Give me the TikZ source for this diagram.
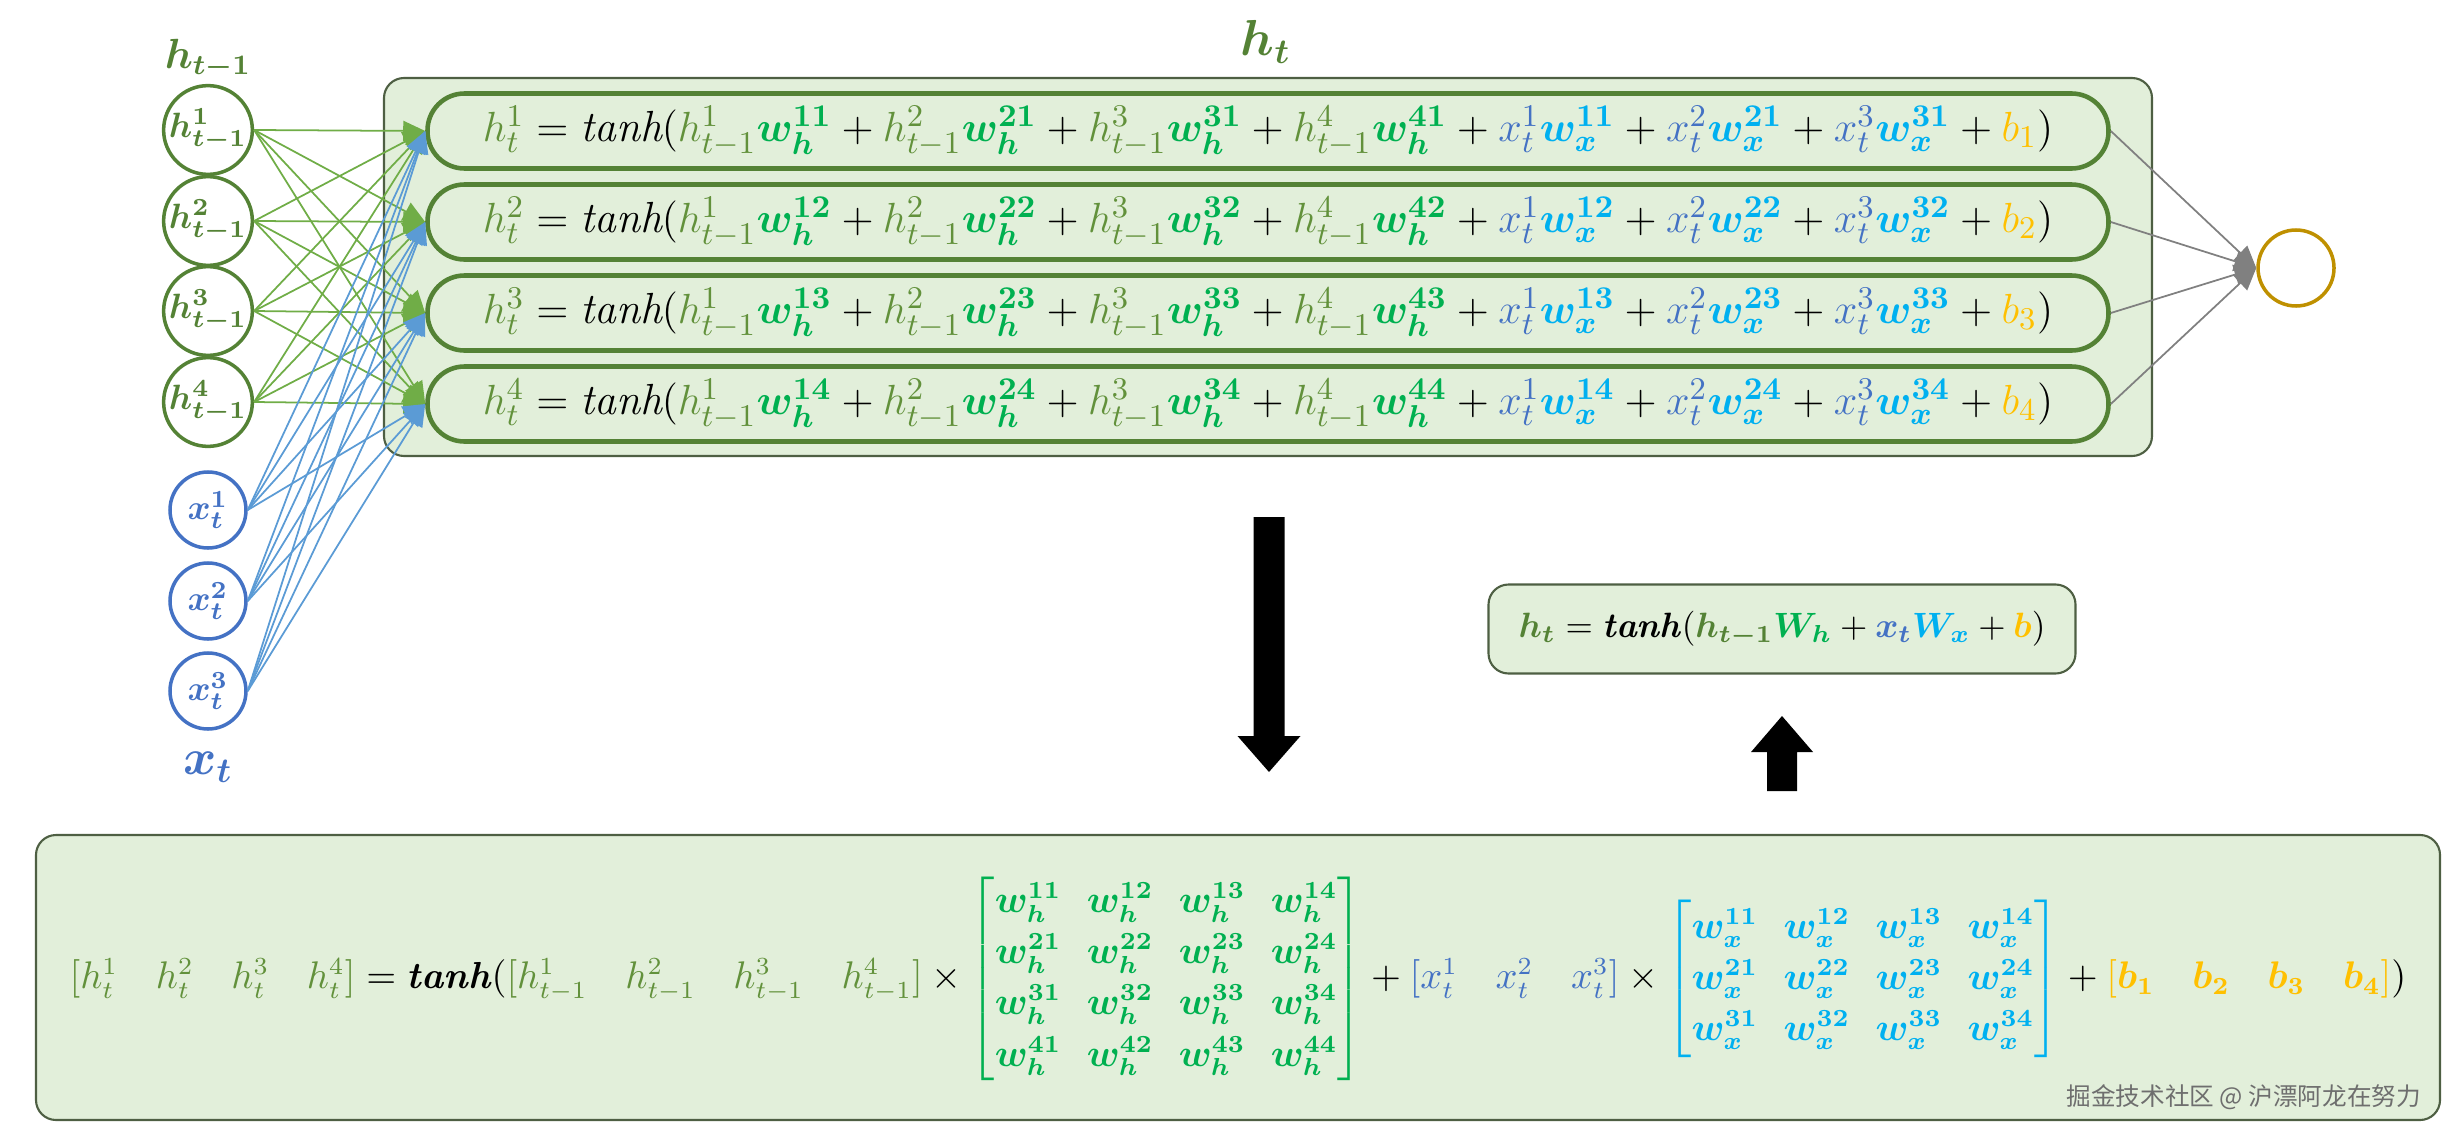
\documentclass[tikz,border=0pt]{standalone}
\usepackage{amsmath,amssymb}
\usepackage{fontspec}
\usepackage{bm}
\usepackage{tikz}
\usetikzlibrary{arrows.meta}

\newfontfamily\cjk{Noto Sans CJK SC}

\definecolor{hdark}{HTML}{548235}
\definecolor{hlight}{HTML}{62913B}
\definecolor{wgreen}{HTML}{00B050}
\definecolor{xblue}{HTML}{4472C4}
\definecolor{wcyan}{HTML}{00B0F0}
\definecolor{bgold}{HTML}{FFC000}
\definecolor{boxfill}{HTML}{E2EFDA}
\definecolor{panelline}{HTML}{4E5F43}
\definecolor{hline}{HTML}{70AD47}
\definecolor{xline}{HTML}{5B9BD5}
\definecolor{outring}{HTML}{BF9000}
\definecolor{markgray}{HTML}{6E6E6E}

% formula pieces
\newcommand{\hprev}[1]{\textcolor{hlight}{h^{#1}_{t-1}}}
\newcommand{\hcur}[1]{\textcolor{hlight}{h^{#1}_{t}}}
\newcommand{\xin}[1]{\textcolor{xblue}{x^{#1}_{t}}}
\newcommand{\whb}[1]{\textcolor{wgreen}{\bm{w^{#1}_{h}}}}
\newcommand{\wxb}[1]{\textcolor{wcyan}{\bm{w^{#1}_{x}}}}
\newcommand{\bias}[1]{\textcolor{bgold}{b_{#1}}}
\newcommand{\boldtanh}{\textbf{\textit{tanh}}}
\newcommand{\rowformula}[1]{$\hcur{#1} = \mathit{tanh}(\hprev{1}\whb{1#1} + \hprev{2}\whb{2#1} + \hprev{3}\whb{3#1} + \hprev{4}\whb{4#1} + \xin{1}\wxb{1#1} + \xin{2}\wxb{2#1} + \xin{3}\wxb{3#1} + \bias{#1})$}

\begin{document}
\begin{tikzpicture}[
    font=\fontsize{12.4}{14}\selectfont,
    hunit/.style={circle, draw=hdark, line width=1pt, minimum size=0.76cm, inner sep=0pt, text=hdark, font=\fontsize{10}{11}\selectfont},
    xunit/.style={circle, draw=xblue, line width=1pt, minimum size=0.76cm, inner sep=0pt, text=xblue, font=\fontsize{10}{11}\selectfont},
    outunit/.style={circle, draw=outring, line width=1pt, minimum size=0.76cm, inner sep=0pt},
    rowbox/.style={draw=hdark, line width=1.3pt, fill=boxfill, rounded corners=0.37cm, minimum width=16.81cm, minimum height=0.75cm, inner sep=0pt},
    panel/.style={draw=panelline, line width=0.6pt, fill=boxfill, rounded corners=0.2cm, inner sep=0pt},
    hedge/.style={draw=hline, line width=0.5pt, -{Triangle[length=2.2mm, width=2mm]}},
    xedge/.style={draw=xline, line width=0.5pt, -{Triangle[length=2.2mm, width=2mm]}},
    oedge/.style={draw=gray, line width=0.5pt, -{Triangle[length=2.2mm, width=2mm]}},
    labelnode/.style={inner sep=1pt}
]
\useasboundingbox (0,0) rectangle (24.57,11.42);

% panels
\node[panel, minimum width=17.68cm, minimum height=3.78cm] (htpanel) at (12.68,8.75) {};
\node[panel, minimum width=5.87cm, minimum height=0.89cm] (vecpanel) at (17.82,5.13) {};
\node[panel, minimum width=24.04cm, minimum height=2.85cm] (matpanel) at (12.38,1.645) {};

% labels
\node[labelnode, text=hdark, font=\fontsize{12}{14}\selectfont] (hprevlabel) at (2.08,10.83) {$\bm{h_{t-1}}$};
\node[labelnode, text=hdark, font=\fontsize{14.4}{17}\selectfont] (hlabel) at (12.66,11.0) {$\bm{h_{t}}$};
\node[labelnode, text=xblue, font=\fontsize{14.4}{17}\selectfont] (xlabel) at (2.08,3.75) {$\bm{x_{t}}$};

% input units
\node[hunit] (h1) at (2.08,10.12) {$\bm{h^1_{t-1}}$};
\node[hunit] (h2) at (2.08,9.21) {$\bm{h^2_{t-1}}$};
\node[hunit] (h3) at (2.08,8.31) {$\bm{h^3_{t-1}}$};
\node[hunit] (h4) at (2.08,7.40) {$\bm{h^4_{t-1}}$};
\node[xunit] (x1) at (2.08,6.32) {$\bm{x^1_{t}}$};
\node[xunit] (x2) at (2.08,5.41) {$\bm{x^2_{t}}$};
\node[xunit] (x3) at (2.08,4.51) {$\bm{x^3_{t}}$};

% hidden rows
\node[rowbox] (r1) at (12.68,10.11) {\rowformula{1}};
\node[rowbox] (r2) at (12.68,9.20) {\rowformula{2}};
\node[rowbox] (r3) at (12.68,8.29) {\rowformula{3}};
\node[rowbox] (r4) at (12.68,7.38) {\rowformula{4}};

% output unit
\node[outunit] (out) at (22.96,8.74) {};

% h_{t-1} to rows
\draw[hedge] (h1.east)--(r1.west);
\draw[hedge] (h1.east)--(r2.west);
\draw[hedge] (h1.east)--(r3.west);
\draw[hedge] (h1.east)--(r4.west);
\draw[hedge] (h2.east)--(r1.west);
\draw[hedge] (h2.east)--(r2.west);
\draw[hedge] (h2.east)--(r3.west);
\draw[hedge] (h2.east)--(r4.west);
\draw[hedge] (h3.east)--(r1.west);
\draw[hedge] (h3.east)--(r2.west);
\draw[hedge] (h3.east)--(r3.west);
\draw[hedge] (h3.east)--(r4.west);
\draw[hedge] (h4.east)--(r1.west);
\draw[hedge] (h4.east)--(r2.west);
\draw[hedge] (h4.east)--(r3.west);
\draw[hedge] (h4.east)--(r4.west);

% x_t to rows
\draw[xedge] (x1.east)--(r1.west);
\draw[xedge] (x1.east)--(r2.west);
\draw[xedge] (x1.east)--(r3.west);
\draw[xedge] (x1.east)--(r4.west);
\draw[xedge] (x2.east)--(r1.west);
\draw[xedge] (x2.east)--(r2.west);
\draw[xedge] (x2.east)--(r3.west);
\draw[xedge] (x2.east)--(r4.west);
\draw[xedge] (x3.east)--(r1.west);
\draw[xedge] (x3.east)--(r2.west);
\draw[xedge] (x3.east)--(r3.west);
\draw[xedge] (x3.east)--(r4.west);

% rows to output
\draw[oedge] (r1.east)--(out.west);
\draw[oedge] (r2.east)--(out.west);
\draw[oedge] (r3.east)--(out.west);
\draw[oedge] (r4.east)--(out.west);

% block arrows
\fill (12.535,6.25) -- (12.845,6.25) -- (12.845,4.06) -- (13.005,4.06) -- (12.69,3.70) -- (12.375,4.06) -- (12.535,4.06) -- cycle;
\fill (17.67,3.51) -- (17.97,3.51) -- (17.97,3.90) -- (18.13,3.90) -- (17.82,4.26) -- (17.51,3.90) -- (17.67,3.90) -- cycle;

% vector form
\node[labelnode, font=\fontsize{10}{12}\selectfont] (vecform) at (vecpanel.center) {$\textcolor{hdark}{\bm{h_t}} = \boldtanh(\textcolor{hdark}{\bm{h_{t-1}}}\textcolor{wgreen}{\bm{W_h}} + \textcolor{xblue}{\bm{x_t}}\textcolor{wcyan}{\bm{W_x}} + \textcolor{bgold}{\bm{b}})$};

% matrix form
\node[labelnode, font=\fontsize{10.7}{13}\selectfont] (matform) at (12.38,1.63) {\renewcommand{\arraystretch}{1.12}\setlength{\arraycolsep}{3.6pt}$\textcolor{hlight}{[h^1_t \quad h^2_t \quad h^3_t \quad h^4_t]} = \boldtanh(\textcolor{hlight}{[h^1_{t-1} \quad h^2_{t-1} \quad h^3_{t-1} \quad h^4_{t-1}]} \times \textcolor{wgreen}{\begin{bmatrix} \bm{w^{11}_h} & \bm{w^{12}_h} & \bm{w^{13}_h} & \bm{w^{14}_h} \\ \bm{w^{21}_h} & \bm{w^{22}_h} & \bm{w^{23}_h} & \bm{w^{24}_h} \\ \bm{w^{31}_h} & \bm{w^{32}_h} & \bm{w^{33}_h} & \bm{w^{34}_h} \\ \bm{w^{41}_h} & \bm{w^{42}_h} & \bm{w^{43}_h} & \bm{w^{44}_h} \end{bmatrix}} + \textcolor{xblue}{[x^1_t \quad x^2_t \quad x^3_t]} \times \textcolor{wcyan}{\begin{bmatrix} \bm{w^{11}_x} & \bm{w^{12}_x} & \bm{w^{13}_x} & \bm{w^{14}_x} \\ \bm{w^{21}_x} & \bm{w^{22}_x} & \bm{w^{23}_x} & \bm{w^{24}_x} \\ \bm{w^{31}_x} & \bm{w^{32}_x} & \bm{w^{33}_x} & \bm{w^{34}_x} \end{bmatrix}} + \textcolor{bgold}{[\bm{b_1} \quad \bm{b_2} \quad \bm{b_3} \quad \bm{b_4}]})$};

% watermark
\node[labelnode, anchor=east, text=markgray, font=\cjk\fontsize{7}{8}\selectfont] (mark) at (24.25,0.45) {掘金技术社区 @ 沪漂阿龙在努力};

\end{tikzpicture}
\end{document}
